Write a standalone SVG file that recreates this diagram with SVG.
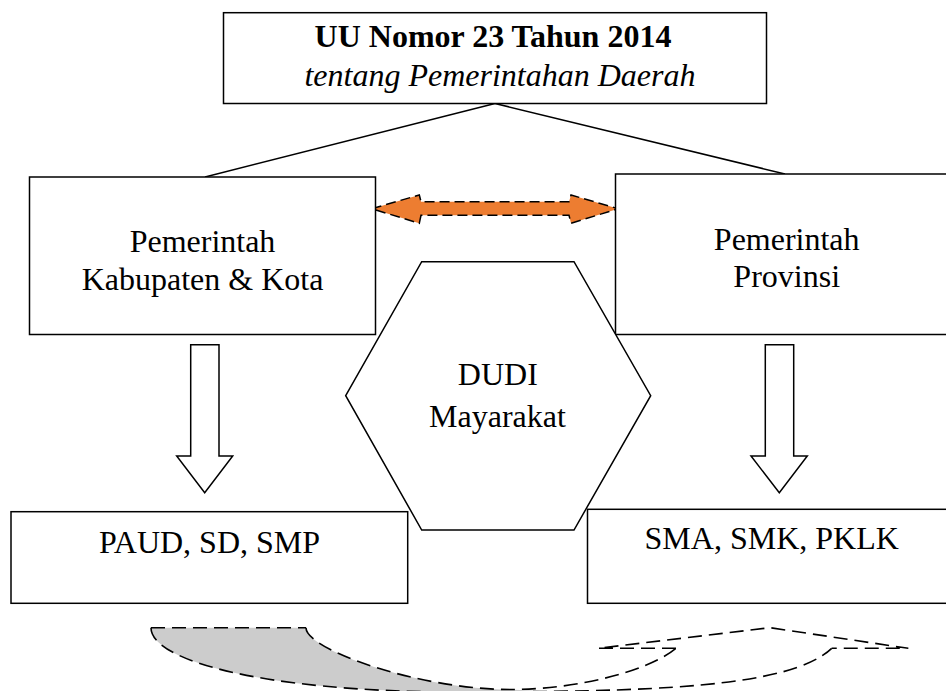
<svg xmlns="http://www.w3.org/2000/svg" width="946" height="691" viewBox="0 0 946 691">
<style>
.box{fill:#fff;stroke:#000;stroke-width:1.5}
.t{font-family:"Liberation Serif","Times New Roman",serif;font-size:32px;fill:#000;text-anchor:middle}
.ln{fill:none;stroke:#000;stroke-width:1.5}
.blk{fill:#fff;stroke:#000;stroke-width:1.5;stroke-linejoin:miter}
.dsh{fill:none;stroke:#000;stroke-width:1.6;stroke-dasharray:14,7}
</style>
<rect width="946" height="691" fill="#fff"/>
<g id="connectors">
<line class="ln" x1="495" y1="103.5" x2="205" y2="177"/>
<line class="ln" x1="495" y1="103.5" x2="785" y2="174"/>
<polygon class="blk" points="190.7,344.7 219,344.7 219,456 232.7,456 204.7,492.7 176.7,456 190.7,456"/>
<polygon class="blk" points="765.3,344.7 793.7,344.7 793.7,456 807.3,456 779.3,492.7 751,456 765.3,456"/>
<polygon points="371.7,208.7 419.3,195 421,201.7 569,201.7 571,195 618.3,208.7 571,223.3 569,215.3 421,215.3 419.3,223.3" fill="#ED7D31" stroke="#000" stroke-width="1.5" stroke-dasharray="10,5"/>
</g>
<g id="uu">
<rect class="box" x="223.5" y="12.7" width="543" height="90.8"/>
<text class="t" x="493" y="46.7" font-weight="bold">UU Nomor 23 Tahun 2014</text>
<text class="t" x="500" y="86" font-style="italic" font-size="30">tentang Pemerintahan Daerah</text>
</g>
<g id="kabkota">
<rect class="box" x="29.5" y="177" width="346" height="157.5"/>
<text class="t" x="202.5" y="252.3">Pemerintah</text>
<text class="t" x="202.5" y="290">Kabupaten &amp; Kota</text>
</g>
<g id="provinsi">
<rect class="box" x="615.5" y="174" width="345" height="160.5"/>
<text class="t" x="786.7" y="250">Pemerintah</text>
<text class="t" x="786.7" y="287.3">Provinsi</text>
</g>
<g id="dudi">
<polygon class="box" points="345.7,395.7 421.7,261.7 574,261.7 650.7,395.7 574,530 421.7,530"/>
<text class="t" x="497.8" y="385">DUDI</text>
<text class="t" x="497.5" y="427.3">Mayarakat</text>
</g>
<g id="paud">
<rect class="box" x="11" y="511.7" width="396.7" height="91.6"/>
<text class="t" x="209.5" y="552.7">PAUD, SD, SMP</text>
</g>
<g id="sma">
<rect class="box" x="587.5" y="509.3" width="370" height="94"/>
<text class="t" x="771.7" y="549">SMA, SMK, PKLK</text>
</g>
<g id="curved-arrow">
<path d="M151,627.7 L306,627.7 C306,650 420,689.5 510,689.5 L550,691.5 L450,692 C260,691 151,660 151,627.7 Z" fill="#cccccc" stroke="none"/>
<path class="dsh" d="M151,627.7 L306,627.7"/>
<path class="dsh" d="M306,627.7 C306,650 420,689.5 510,689.5 C580,689.5 650,670 676,648.3"/>
<path class="dsh" d="M151,627.7 C151,660 260,691 450,692 C650,692 790,688 831.7,648.3"/>
<path class="dsh" d="M676,648.3 L598.3,648.3 L770,627.7 L908.3,648.3 L831.7,648.3"/>
</g>
</svg>
